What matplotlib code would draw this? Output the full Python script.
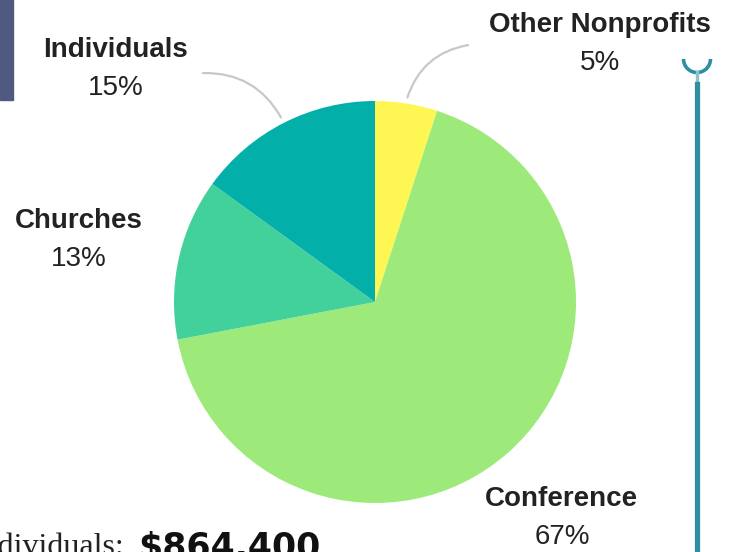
import numpy as np
import matplotlib
matplotlib.use("Agg")
import matplotlib.pyplot as plt
from matplotlib.patches import Rectangle, Arc

# Data
sources = ["Other Nonprofits", "Conference", "Churches", "Individuals"]
shares = [5, 67, 13, 15]
pct_labels = ["5%", "67%", "13%", "15%"]
colors = ["#FEF753", "#9DE979", "#43D19B", "#02AFA9"]

# label placement (pie units, pie radius = 1, center = 0,0)
label_pos = [(1.12, 1.38), (0.93, -0.98), (-1.473, 0.405), (-1.289, 1.255)]
# where the leader line starts (None = no leader line) and its bend
leader_start = [(0.463, 1.278), None, None, (-0.856, 1.139)]
leader_rad = [0.3, 0, 0, -0.3]

fig = plt.figure(figsize=(7.29, 5.52), dpi=100)
ax = fig.add_axes([0, 0, 1, 1])

wedges, _ = ax.pie(shares, colors=colors, startangle=90, counterclock=False,
                   radius=1, center=(0, 0), wedgeprops=dict(linewidth=0))

# window so the pie sits where it does in the page
scale = 201.0  # px per pie radius
ax.set_xlim(-375 / scale, (729 - 375) / scale)
ax.set_ylim(-(552 - 302) / scale, 302 / scale)
ax.set_aspect("equal")
ax.axis("off")

# labels
for name, pct, (lx, ly) in zip(sources, pct_labels, label_pos):
    ax.text(lx, ly, name, ha="center", va="center", fontsize=20,
            fontweight="bold", family="Liberation Sans", color="#222222")
    ax.text(lx, ly - 0.19, pct, ha="center", va="center", fontsize=20,
            family="Liberation Sans", color="#222222")

# curved grey leader lines to the small slices
cum = np.cumsum([0] + shares)
for i, start in enumerate(leader_start):
    if start is None:
        continue
    mid = 90 - (cum[i] + cum[i + 1]) / 2 * 3.6
    end = (1.03 * np.cos(np.radians(mid)), 1.03 * np.sin(np.radians(mid)))
    ax.annotate("", xy=end, xytext=start,
                arrowprops=dict(arrowstyle="-", color="#C8C8C8", lw=1.6,
                                shrinkA=0, shrinkB=0,
                                connectionstyle=f"arc3,rad={leader_rad[i]}"))

# bits of the surrounding page that show in the crop
fig.patches.append(Rectangle((0, 1 - 100 / 552), 13 / 729, 100 / 552,
                             transform=fig.transFigure, color="#4E5A80"))
fig.lines.append(plt.Line2D([697 / 729, 697 / 729], [1 - 72 / 552, 1 - 84 / 552],
                            transform=fig.transFigure, color="#8EC3CE", lw=2.4))
fig.lines.append(plt.Line2D([697 / 729, 697 / 729], [0, 1 - 84 / 552],
                            transform=fig.transFigure, color="#2E8FA3", lw=3.8))
fig.patches.append(Arc((697 / 729, 1 - 59 / 552), 27 / 729, 27 / 552,
                       theta1=180, theta2=360, transform=fig.transFigure,
                       color="#2E8FA3", lw=2.6))

fig.text(125 / 729, 1 - 533 / 552, "Individuals:", ha="right", va="top",
         fontsize=23, family="Liberation Serif", color="#222222")
fig.text(138 / 729, 1 - 531 / 552, "$864,400", ha="left", va="top",
         fontsize=25, fontweight="bold", family="DejaVu Sans", color="#111111")

fig.savefig("out.png", dpi=100)
